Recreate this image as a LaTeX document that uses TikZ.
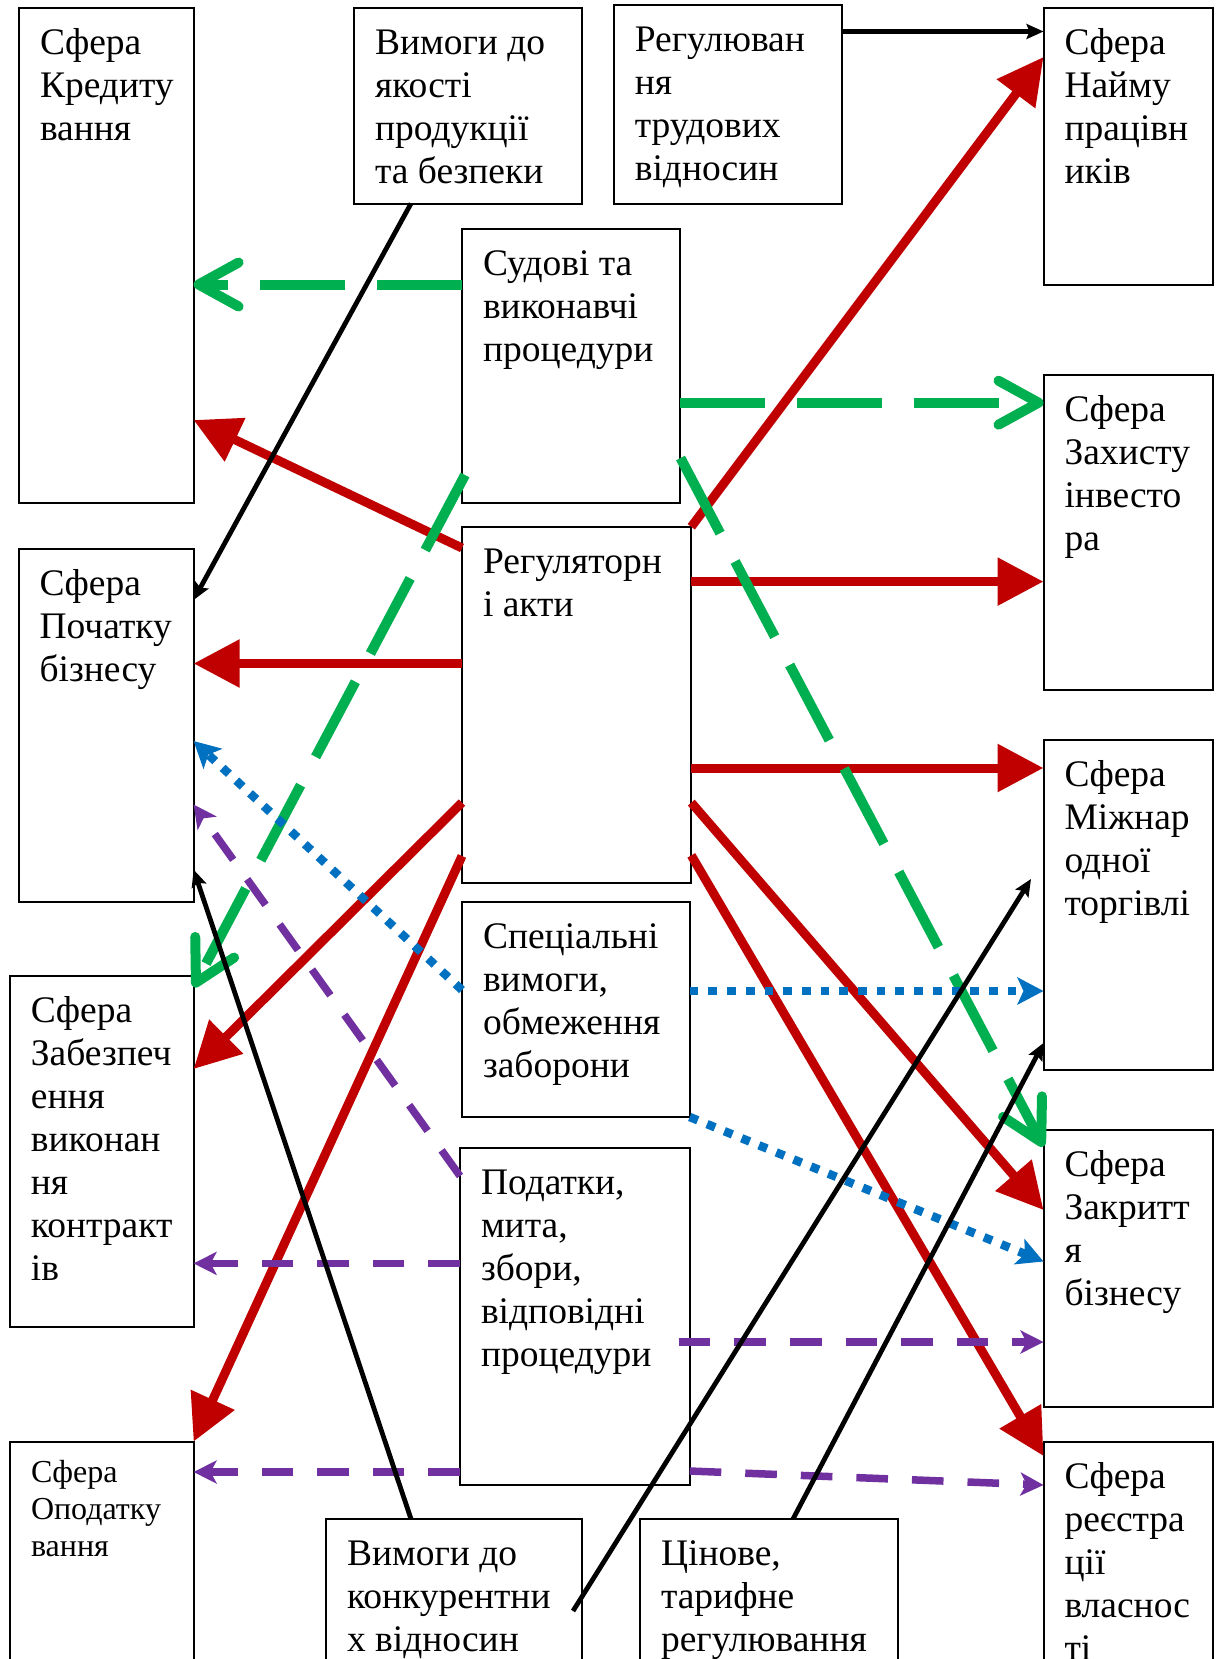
\documentclass[tikz,border=0pt]{standalone}
\usepackage{fontspec}
\setmainfont{Liberation Serif}
\usetikzlibrary{arrows.meta,calc}
\definecolor{cred}{HTML}{C00000}
\definecolor{cgreen}{HTML}{00B050}
\definecolor{cblue}{HTML}{0070C0}
\definecolor{cpurple}{HTML}{7030A0}
\begin{document}
\begin{tikzpicture}[x=1pt,y=-1pt,
  box/.style={draw, line width=2pt, anchor=north west, inner sep=0pt, outer sep=0pt},
  txt/.style={anchor=north west, inner sep=0pt, outer sep=0pt, align=left, font=\fontsize{37.5}{43}\selectfont},
  txts/.style={anchor=north west, inner sep=0pt, outer sep=0pt, align=left, font=\fontsize{32}{37}\selectfont},
  redarr/.style={draw=cred, line width=9pt, -{Triangle[length=46pt,width=46pt]}},
  greenarr/.style={draw=cgreen, line width=10pt, dash pattern=on 85pt off 32pt, -{Straight Barb[length=40pt,width=44pt,round]}},
  bluearr/.style={draw=cblue, line width=8.5pt, dash pattern=on 8.7pt off 10pt, -{Stealth[length=26pt,width=27pt,inset=6pt]}},
  purparr/.style={draw=cpurple, line width=7.5pt, dash pattern=on 31.6pt off 24pt, -{Stealth[length=23pt,width=23pt,inset=6pt]}},
  blackarr/.style={draw=black, line width=4.8pt, -{Stealth[length=17pt,width=15pt,inset=3pt]}}
]
\fill[white] (0,0) rectangle (1217,1659);
\useasboundingbox (0,0) rectangle (1217,1659);

% boxes
\node[box, minimum width=174.6pt, minimum height=494.7pt] (kred) at (19,8.3) {};
\node[box, minimum width=227.5pt, minimum height=195.2pt] (vymyak) at (354,8.3) {};
\node[box, minimum width=228.2pt, minimum height=198.5pt] (reg) at (613.8,5) {};
\node[box, minimum width=169.2pt, minimum height=276.2pt] (naimu) at (1043.5,8.3) {};
\node[box, minimum width=217.5pt, minimum height=274pt] (sud) at (462,229) {};
\node[box, minimum width=169.2pt, minimum height=315.1pt] (zakh) at (1043.5,374.5) {};
\node[box, minimum width=229.3pt, minimum height=356.2pt] (akty) at (462,526.8) {};
\node[box, minimum width=175pt, minimum height=353pt] (poch) at (18.6,549) {};
\node[box, minimum width=169.2pt, minimum height=330pt] (mizh) at (1043.5,740) {};
\node[box, minimum width=227.7pt, minimum height=215pt] (spec) at (462,902) {};
\node[box, minimum width=183.7pt, minimum height=350.5pt] (zabez) at (9.9,976) {};
\node[box, minimum width=229.7pt, minimum height=337pt] (podat) at (460,1148) {};
\node[box, minimum width=169.2pt, minimum height=276.6pt] (zakr) at (1043.5,1130) {};
\node[box, minimum width=183.6pt, minimum height=260pt] (opod) at (10,1441.6) {};
\node[box, minimum width=255.5pt, minimum height=180pt] (konk) at (326,1519) {};
\node[box, minimum width=258pt, minimum height=180pt] (tsin) at (640,1519) {};
\node[box, minimum width=169.2pt, minimum height=260pt] (reyestr) at (1043.5,1441.6) {};

% texts
\node[txt] (t-kred) at ($(kred.north west)+(21,16.4)$) {\strut Сфера\\Кредиту\\вання};
\node[txt] (t-vymyak) at ($(vymyak.north west)+(21,16.4)$) {\strut Вимоги до\\якості\\продукції\\та безпеки};
\node[txt] (t-reg) at ($(reg.north west)+(21,16.4)$) {\strut Регулюван\\ня\\трудових\\відносин};
\node[txt] (t-naimu) at ($(naimu.north west)+(21,16.4)$) {\strut Сфера\\Найму\\працівн\\иків};
\node[txt] (t-sud) at ($(sud.north west)+(21,16.4)$) {\strut Судові та\\виконавчі\\процедури};
\node[txt] (t-zakh) at ($(zakh.north west)+(21,16.4)$) {\strut Сфера\\Захисту\\інвесто\\ра};
\node[txt] (t-akty) at ($(akty.north west)+(21,16.4)$) {\strut Регуляторн\\і акти};
\node[txt] (t-poch) at ($(poch.north west)+(21,16.4)$) {\strut Сфера\\Початку\\бізнесу};
\node[txt] (t-mizh) at ($(mizh.north west)+(21,16.4)$) {\strut Сфера\\Міжнар\\одної\\торгівлі};
\node[txt] (t-spec) at ($(spec.north west)+(21,16.4)$) {\strut Спеціальні\\вимоги,\\обмеження\\заборони};
\node[txt] (t-zabez) at ($(zabez.north west)+(21,16.4)$) {\strut Сфера\\Забезпеч\\ення\\виконан\\ня\\контракт\\ів};
\node[txt] (t-podat) at ($(podat.north west)+(21,16.4)$) {\strut Податки,\\мита,\\збори,\\відповідні\\процедури};
\node[txt] (t-zakr) at ($(zakr.north west)+(21,16.4)$) {\strut Сфера\\Закритт\\я\\бізнесу};
\node[txts] (t-opod) at ($(opod.north west)+(21,14.5)$) {\strut Сфера\\Оподатку\\вання};
\node[txt] (t-konk) at ($(konk.north west)+(21,16.4)$) {\strut Вимоги до\\конкурентни\\х відносин};
\node[txt] (t-tsin) at ($(tsin.north west)+(21,16.4)$) {\strut Цінове,\\тарифне\\регулювання};
\node[txt] (t-reyestr) at ($(reyestr.north west)+(21,16.4)$) {\strut Сфера\\реєстра\\ції\\власнос\\ті};

% red arrows
\draw[redarr] (akty.north east) -- ($(naimu.north west)+(0,48.7)$);
\draw[redarr] ($(akty.north west)+(0,21.2)$) -- ($(kred.north east)+(0,411.7)$);
\draw[redarr] ($(akty.north east)+(0,54.8)$) -- ($(zakh.north west)+(0,207.1)$);
\draw[redarr] ($(akty.north west)+(0,136.7)$) -- ($(poch.north east)+(0,114.5)$);
\draw[redarr] ($(akty.north east)+(0,241.2)$) -- ($(mizh.north west)+(0,28)$);
\draw[redarr] ($(akty.north west)+(0,275.8)$) -- ($(zabez.north east)+(0,93)$);
\draw[redarr] ($(akty.north west)+(0,329.2)$) -- (opod.north east);
\draw[redarr] ($(akty.north east)+(0,275.8)$) -- ($(zakr.north west)+(0,80)$);
\draw[redarr] ($(akty.north east)+(0,328.6)$) -- ($(reyestr.north west)+(0,14.4)$);

% green dashed arrows
\draw[greenarr] ($(sud.north west)+(0,55.5)$) -- ($(kred.north east)+(0,276.2)$);
\draw[greenarr] ($(sud.north east)+(0,173.7)$) -- ($(zakh.north west)+(0,28.2)$);
\draw[greenarr] ($(sud.south west)+(3,-28)$) -- ($(zabez.north east)+(0,11)$);
\draw[greenarr] ($(sud.north east)+(1,229)$) -- ($(zakr.north west)+(0,16.4)$);

% blue dotted arrows
\draw[bluearr] ($(spec.north west)+(0,88)$) -- ($(poch.north east)+(0,192)$);
\draw[bluearr] ($(spec.north east)+(0,89)$) -- ($(mizh.north west)+(0,251)$);
\draw[bluearr] (spec.south east) -- ($(zakr.north west)+(0,131.5)$);

% purple dashed arrows
\draw[purparr] ($(podat.north west)+(0,28)$) -- ($(poch.north east)+(0,255.5)$);
\draw[purparr] ($(podat.north east)+(-11,194)$) -- ($(zakr.north west)+(0,212)$);
\draw[purparr] ($(podat.north east)+(0,323)$) -- ($(reyestr.north west)+(0,43.4)$);
\draw[purparr] ($(podat.north west)+(0,115.4)$) -- ($(zabez.north east)+(0,287.4)$);
\draw[purparr] ($(podat.north west)+(0,324)$) -- ($(opod.north east)+(0,30.4)$);

% black arrows
\draw[blackarr] ($(reg.north east)+(0,26.5)$) -- ($(naimu.north west)+(0,23.2)$);
\draw[blackarr] ($(vymyak.south west)+(57,0)$) -- ($(poch.north east)+(0,51)$);
\draw[blackarr] ($(konk.north west)+(85,0)$) -- ($(poch.south east)+(0,-32.4)$);
\coordinate (mizhaim) at ($(mizh.north west)+(-12.5,139)$);
\draw[blackarr] ($(konk.north east)+(-8.5,92)$) -- (mizhaim);
\draw[blackarr] ($(tsin.north west)+(153,0)$) -- ($(mizh.north west)+(0,303)$);
\end{tikzpicture}
\end{document}
